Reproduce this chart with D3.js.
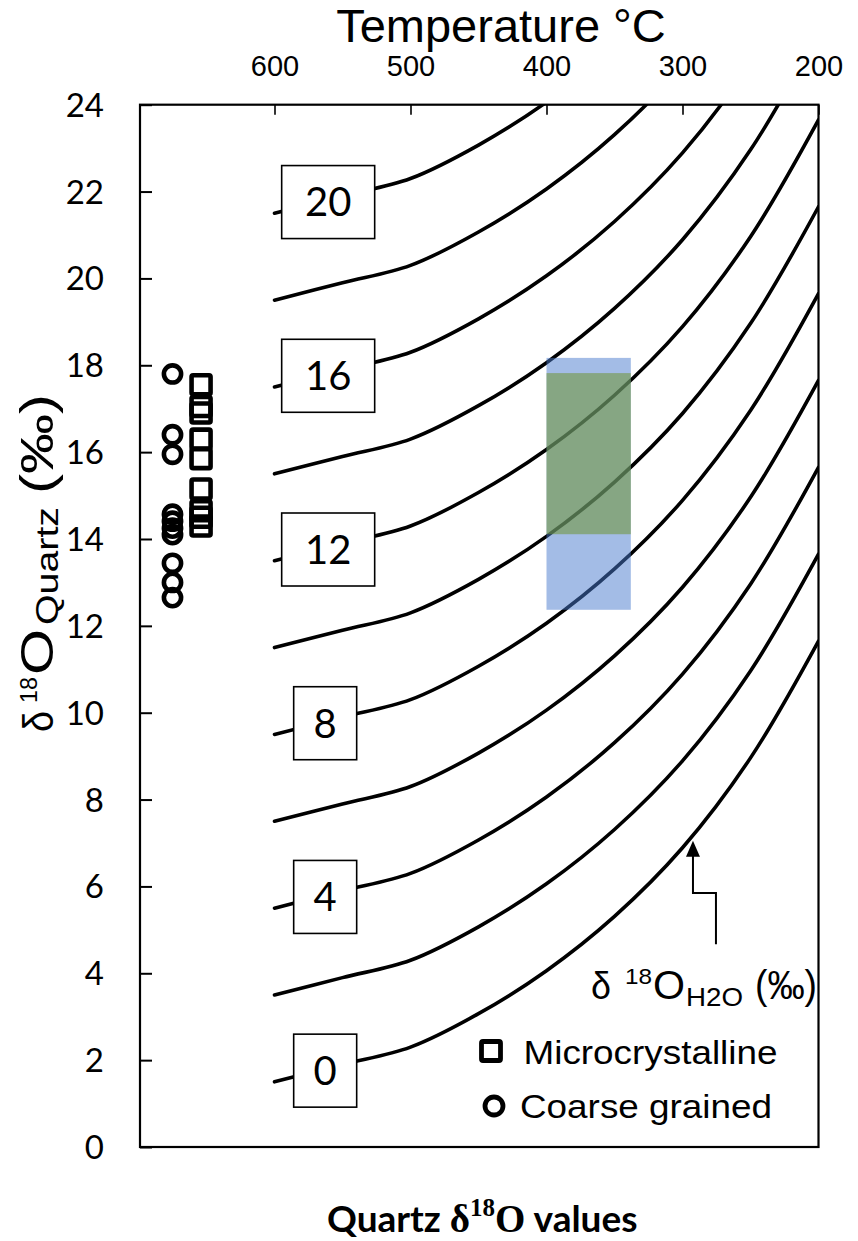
<!DOCTYPE html>
<html><head><meta charset="utf-8">
<script src="https://cdn.jsdelivr.net/npm/d3@7"></script>
<style>body{margin:0;background:#fff} svg{display:block}</style>
</head><body>
<svg id="chart" width="858" height="1241"></svg>
<script>
// ---------- data ----------
const temperatureTicks = [600, 500, 400, 300, 200];
const quartzTicks = [0, 2, 4, 6, 8, 10, 12, 14, 16, 18, 20, 22, 24];
const curveTemperatures = [600, 550, 500, 450, 400, 350, 300, 250, 200];
const quartzWaterShift = [1.5, 1.9, 2.3, 3.07, 4.06, 5.31, 6.89, 8.96, 11.65];
const waterValues = [0, 2, 4, 6, 8, 10, 12, 14, 16, 18, 20];
const labelledWater = [0, 4, 8, 12, 16, 20];
const labelTemperature = 562;
const microcrystalline = [17.55, 17.05, 16.9, 16.3, 15.85, 15.15, 14.65, 14.5, 14.3];
const coarseGrained = [17.8, 16.4, 15.95, 14.57, 14.41, 14.25, 14.1, 13.44, 13.0, 12.65];
const microTemperature = 654;
const coarseTemperature = 675;
const blueRangeT = [400, 338];
const blueRangeQ = [12.37, 18.17];
const greenRangeT = [400, 338];
const greenRangeQ = [14.11, 17.82];
const arrowT = [275.4, 275.4, 292.3, 292.3];
const arrowQ = [4.67, 5.85, 5.85, 6.72];
const arrowTipQ = 7.05;

// ---------- setup ----------
const svg = d3.select("#chart");
const x = d3.scaleLinear().domain([700, 200]).range([138.5, 818.5]);
const y = d3.scaleLinear().domain([0, 24]).range([1147, 104.7]);
const L = 140, R = 818.5, T = 104.7, B = 1147;
const SANS = "'Liberation Sans', Arial, sans-serif";
const CAL = "Lato, 'Open Sans', sans-serif";
const SERIF = "'Liberation Serif', 'Times New Roman', serif";

function txt(parent, s, px, py, o) {
  const t = parent.append("text").attr("x", px).attr("y", py).text(s)
    .attr("font-family", o.family || SANS)
    .attr("font-size", o.size).attr("fill", "#000");
  if (o.weight) t.attr("font-weight", o.weight);
  if (o.anchor) t.attr("text-anchor", o.anchor);
  if (o.len) t.attr("textLength", o.len).attr("lengthAdjust", "spacingAndGlyphs");
  return t;
}

svg.append("defs").append("clipPath").attr("id", "plotClip")
  .append("rect").attr("x", L).attr("y", T).attr("width", R - L).attr("height", B - T);

// ---------- curves ----------
const line = d3.line().x(d => x(d[0])).y(d => y(d[1])).curve(d3.curveCatmullRom.alpha(0.5));
const curveG = svg.append("g").attr("clip-path", "url(#plotClip)");
const paths = {};
waterValues.forEach(w => {
  const pts = curveTemperatures.map((t, i) => [t, w + quartzWaterShift[i]]);
  paths[w] = curveG.append("path").attr("d", line(pts))
    .attr("fill", "none").attr("stroke", "#000").attr("stroke-width", 3.6)
    .attr("stroke-linecap", "round");
});

// ---------- shaded ranges ----------
svg.append("rect")
  .attr("x", x(blueRangeT[0])).attr("width", x(blueRangeT[1]) - x(blueRangeT[0]))
  .attr("y", y(blueRangeQ[1])).attr("height", y(blueRangeQ[0]) - y(blueRangeQ[1]))
  .attr("fill", "rgb(72,122,205)").attr("fill-opacity", 0.5);
svg.append("rect")
  .attr("x", x(greenRangeT[0])).attr("width", x(greenRangeT[1]) - x(greenRangeT[0]))
  .attr("y", y(greenRangeQ[1])).attr("height", y(greenRangeQ[0]) - y(greenRangeQ[1]))
  .attr("fill", "rgb(112,148,50)").attr("fill-opacity", 0.55);

// ---------- label boxes ----------
function yOnPath(node, px) {
  const len = node.getTotalLength();
  let lo = 0, hi = len;
  for (let i = 0; i < 40; i++) {
    const mid = (lo + hi) / 2;
    if (node.getPointAtLength(mid).x < px) lo = mid; else hi = mid;
  }
  return node.getPointAtLength(lo).y;
}
const lx = x(labelTemperature);
labelledWater.forEach(w => {
  const cy = yOnPath(paths[w].node(), lx) + 2;
  const bw = w >= 10 ? 93 : 63, bh = 73;
  const bx = w >= 10 ? lx + 2 : lx - 1;
  svg.append("rect").attr("x", bx - bw / 2).attr("y", cy - bh / 2)
    .attr("width", bw).attr("height", bh)
    .attr("fill", "#fff").attr("stroke", "#000").attr("stroke-width", 1.6);
  txt(svg, String(w), bx, cy, {family: CAL, size: 40, anchor: "middle"})
    .attr("dy", "0.36em");
});

// ---------- frame & axes ----------
svg.append("rect").attr("x", L).attr("y", T).attr("width", R - L).attr("height", B - T)
  .attr("fill", "none").attr("stroke", "#000").attr("stroke-width", 2.2);

const topAxis = svg.append("g").attr("transform", `translate(0,${T})`)
  .call(d3.axisTop(x).tickValues(temperatureTicks).tickSize(-10).tickSizeOuter(0).tickPadding(28.7));
topAxis.select(".domain").remove();
topAxis.selectAll(".tick line").attr("stroke", "#000").attr("stroke-width", 1.6);
topAxis.selectAll(".tick text").attr("font-family", SANS)
  .attr("font-size", 29).attr("fill", "#000");

const leftAxis = svg.append("g").attr("transform", `translate(${L},0)`)
  .call(d3.axisLeft(y).tickValues(quartzTicks).tickSize(-12).tickSizeOuter(0).tickPadding(36));
leftAxis.select(".domain").remove();
leftAxis.selectAll(".tick line").attr("stroke", "#000").attr("stroke-width", 2);
leftAxis.selectAll(".tick text").attr("font-family", CAL)
  .attr("font-size", 33).attr("fill", "#000").attr("dy", "0.35em");

// ---------- data points ----------
svg.append("g").selectAll("circle").data(coarseGrained).join("circle")
  .attr("cx", x(coarseTemperature)).attr("cy", d => y(d)).attr("r", 8.6)
  .attr("fill", "none").attr("stroke", "#000").attr("stroke-width", 4.6);
const sq = 19;
svg.append("g").selectAll("rect").data(microcrystalline).join("rect")
  .attr("x", x(microTemperature) - sq / 2).attr("y", d => y(d) - sq / 2)
  .attr("width", sq).attr("height", sq).attr("rx", 1.5)
  .attr("fill", "none").attr("stroke", "#000").attr("stroke-width", 4.6);

// ---------- arrow annotation ----------
svg.append("path")
  .attr("d", d3.line()(arrowT.map((t, i) => [x(t), y(arrowQ[i])])))
  .attr("fill", "none").attr("stroke", "#000").attr("stroke-width", 2);
const tipX = x(arrowT[3]), tipY = y(arrowTipQ);
svg.append("path").attr("d", `M${tipX},${tipY} L${tipX - 7},${tipY + 16} L${tipX + 7},${tipY + 16} Z`)
  .attr("fill", "#000");

const ann = svg.append("g");
txt(ann, "δ", 591, 999, {size: 38, len: 20});
txt(ann, "18", 625, 984, {size: 22, len: 27});
txt(ann, "O", 653, 999, {size: 40, len: 32});
txt(ann, "H2O", 686, 1006, {size: 25, len: 57});
txt(ann, "(‰)", 755, 999, {size: 40, len: 62});

// ---------- legend ----------
svg.append("rect").attr("x", 491 - 9.5).attr("y", 1051 - 9.5).attr("width", 19).attr("height", 19).attr("rx", 1.5)
  .attr("fill", "none").attr("stroke", "#000").attr("stroke-width", 4.8);
txt(svg, "Microcrystalline", 523.5, 1064, {size: 34, len: 254});
svg.append("circle").attr("cx", 494).attr("cy", 1106).attr("r", 9)
  .attr("fill", "none").attr("stroke", "#000").attr("stroke-width", 4.8);
txt(svg, "Coarse grained", 520, 1118, {size: 34, len: 252});

// ---------- titles ----------
txt(svg, "Temperature °C", 501, 42, {size: 47, anchor: "middle"});

const yt = svg.append("g").attr("transform", "translate(53,732) rotate(-90)");
txt(yt, "δ", 0, 0, {size: 42, len: 21});
txt(yt, "18", 29, -16, {size: 24, len: 26});
txt(yt, "O", 57, 0, {size: 46, len: 46});
txt(yt, "Quartz", 107, 5, {size: 31, len: 118});
txt(yt, "(‰)", 238, 0, {size: 46, len: 100});

// bottom title: pieces chained left to right
const bt = svg.append("g");
let cx0 = 327;
[["Quartz ", CAL, 37, 0], ["δ", SERIF, 39, 0], ["18", SERIF, 25, -16], ["O", SERIF, 39, 0], [" values", CAL, 37, 0]]
  .forEach(([s, fam, size, dy]) => {
    const t = txt(bt, s, cx0, 1232 + dy, {family: fam, size: size, weight: "bold"})
      .attr("xml:space", "preserve").style("white-space", "pre");
    cx0 += t.node().getComputedTextLength();
  });
</script>
</body></html>
